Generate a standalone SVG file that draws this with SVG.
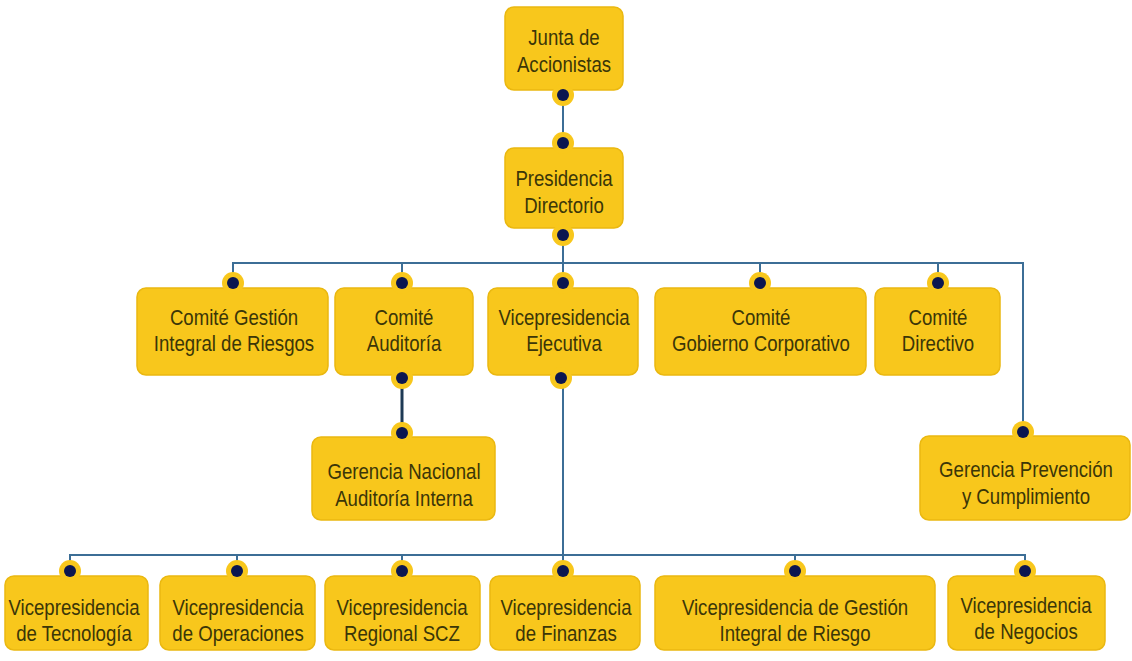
<svg xmlns="http://www.w3.org/2000/svg" width="1132" height="661" viewBox="0 0 1132 661">
<defs>
<style>
.box{fill:#F8C71C;stroke:#EAB810;stroke-width:1.5}
.bump{fill:#F8C71C}
.dot{fill:#0B1650}
.t{font-family:"Liberation Sans",Arial,sans-serif;font-size:23px;fill:#3B3608;text-anchor:middle}
.ln{stroke:#3C6E96;stroke-width:2;fill:none}
.lnd{stroke:#1E3A55;stroke-width:3;fill:none}
</style>
</defs>
<rect width="1132" height="661" fill="#ffffff"/>
<g id="connectors">
<path class="ln" d="M563 95 V143"/>
<path class="ln" d="M563 235 V263"/>
<path class="ln" d="M233 283 V263 H1023 V432"/>
<path class="ln" d="M402 263 V283 M760 263 V283 M938 263 V283 M563 263 V283"/>
<path class="lnd" d="M402 378 V433"/>
<path class="ln" d="M563 378 V555"/>
<path class="ln" d="M70 570 V555 H1025 V570"/>
<path class="ln" d="M237 555 V570 M402 555 V570 M563 555 V570 M795 555 V570"/>
</g>
<g id="n_junta">
<rect class="box" x="505" y="7" width="118" height="83" rx="9"/>
<circle class="bump" cx="563" cy="95" r="11"/><circle class="dot" cx="563" cy="95" r="6"/>
<g transform="matrix(0.81 0 0 1 564 0)"><text class="t" x="0" y="45">Junta de</text><text class="t" x="0" y="72">Accionistas</text></g>
</g>
<g id="n_presidencia">
<rect class="box" x="505" y="148" width="118" height="80" rx="9"/>
<circle class="bump" cx="563" cy="143" r="11"/><circle class="dot" cx="563" cy="143" r="6"/>
<circle class="bump" cx="563" cy="235" r="11"/><circle class="dot" cx="563" cy="235" r="6"/>
<g transform="matrix(0.81 0 0 1 564 0)"><text class="t" x="0" y="186">Presidencia</text><text class="t" x="0" y="213">Directorio</text></g>
</g>
<g id="n_cgir">
<rect class="box" x="137" y="288" width="191" height="87" rx="9"/>
<circle class="bump" cx="233" cy="283" r="11"/><circle class="dot" cx="233" cy="283" r="6"/>
<g transform="matrix(0.81 0 0 1 234 0)"><text class="t" x="0" y="325">Comité Gestión</text><text class="t" x="0" y="351">Integral de Riesgos</text></g>
</g>
<g id="n_caud">
<rect class="box" x="335" y="288" width="138" height="87" rx="9"/>
<circle class="bump" cx="402" cy="283" r="11"/><circle class="dot" cx="402" cy="283" r="6"/>
<circle class="bump" cx="402" cy="378" r="11"/><circle class="dot" cx="402" cy="378" r="6"/>
<g transform="matrix(0.81 0 0 1 404 0)"><text class="t" x="0" y="325">Comité</text><text class="t" x="0" y="351">Auditoría</text></g>
</g>
<g id="n_vpe">
<rect class="box" x="488" y="288" width="150" height="87" rx="9"/>
<circle class="bump" cx="563" cy="283" r="11"/><circle class="dot" cx="563" cy="283" r="6"/>
<circle class="bump" cx="561" cy="378" r="11"/><circle class="dot" cx="561" cy="378" r="6"/>
<g transform="matrix(0.81 0 0 1 564 0)"><text class="t" x="0" y="325">Vicepresidencia</text><text class="t" x="0" y="351">Ejecutiva</text></g>
</g>
<g id="n_cgc">
<rect class="box" x="655" y="288" width="211" height="87" rx="9"/>
<circle class="bump" cx="760" cy="283" r="11"/><circle class="dot" cx="760" cy="283" r="6"/>
<g transform="matrix(0.81 0 0 1 761 0)"><text class="t" x="0" y="325">Comité</text><text class="t" x="0" y="351">Gobierno Corporativo</text></g>
</g>
<g id="n_cdir">
<rect class="box" x="875" y="288" width="125" height="87" rx="9"/>
<circle class="bump" cx="938" cy="283" r="11"/><circle class="dot" cx="938" cy="283" r="6"/>
<g transform="matrix(0.81 0 0 1 938 0)"><text class="t" x="0" y="325">Comité</text><text class="t" x="0" y="351">Directivo</text></g>
</g>
<g id="n_gnai">
<rect class="box" x="312" y="437" width="183" height="83" rx="9"/>
<circle class="bump" cx="402" cy="433" r="11"/><circle class="dot" cx="402" cy="433" r="6"/>
<g transform="matrix(0.81 0 0 1 404 0)"><text class="t" x="0" y="479">Gerencia Nacional</text><text class="t" x="0" y="506">Auditoría Interna</text></g>
</g>
<g id="n_gpc">
<rect class="box" x="920" y="436" width="210" height="84" rx="9"/>
<circle class="bump" cx="1023" cy="432" r="11"/><circle class="dot" cx="1023" cy="432" r="6"/>
<g transform="matrix(0.81 0 0 1 1026 0)"><text class="t" x="0" y="477">Gerencia Prevención</text><text class="t" x="0" y="504">y Cumplimiento</text></g>
</g>
<g id="n_vtec">
<rect class="box" x="5" y="576" width="143" height="74" rx="9"/>
<circle class="bump" cx="70" cy="571" r="11"/><circle class="dot" cx="70" cy="571" r="6"/>
<g transform="matrix(0.81 0 0 1 74 0)"><text class="t" x="0" y="615">Vicepresidencia</text><text class="t" x="0" y="641">de Tecnología</text></g>
</g>
<g id="n_vop">
<rect class="box" x="160" y="576" width="155" height="74" rx="9"/>
<circle class="bump" cx="237" cy="571" r="11"/><circle class="dot" cx="237" cy="571" r="6"/>
<g transform="matrix(0.81 0 0 1 238 0)"><text class="t" x="0" y="615">Vicepresidencia</text><text class="t" x="0" y="641">de Operaciones</text></g>
</g>
<g id="n_vscz">
<rect class="box" x="325" y="576" width="155" height="74" rx="9"/>
<circle class="bump" cx="402" cy="571" r="11"/><circle class="dot" cx="402" cy="571" r="6"/>
<g transform="matrix(0.81 0 0 1 402 0)"><text class="t" x="0" y="615">Vicepresidencia</text><text class="t" x="0" y="641">Regional SCZ</text></g>
</g>
<g id="n_vfin">
<rect class="box" x="490" y="576" width="150" height="74" rx="9"/>
<circle class="bump" cx="563" cy="571" r="11"/><circle class="dot" cx="563" cy="571" r="6"/>
<g transform="matrix(0.81 0 0 1 566 0)"><text class="t" x="0" y="615">Vicepresidencia</text><text class="t" x="0" y="641">de Finanzas</text></g>
</g>
<g id="n_vgir">
<rect class="box" x="655" y="576" width="280" height="74" rx="9"/>
<circle class="bump" cx="795" cy="571" r="11"/><circle class="dot" cx="795" cy="571" r="6"/>
<g transform="matrix(0.81 0 0 1 795 0)"><text class="t" x="0" y="615">Vicepresidencia de Gestión</text><text class="t" x="0" y="641">Integral de Riesgo</text></g>
</g>
<g id="n_vneg">
<rect class="box" x="948" y="576" width="157" height="74" rx="9"/>
<circle class="bump" cx="1025" cy="571" r="11"/><circle class="dot" cx="1025" cy="571" r="6"/>
<g transform="matrix(0.81 0 0 1 1026 0)"><text class="t" x="0" y="613">Vicepresidencia</text><text class="t" x="0" y="639">de Negocios</text></g>
</g>
</svg>
